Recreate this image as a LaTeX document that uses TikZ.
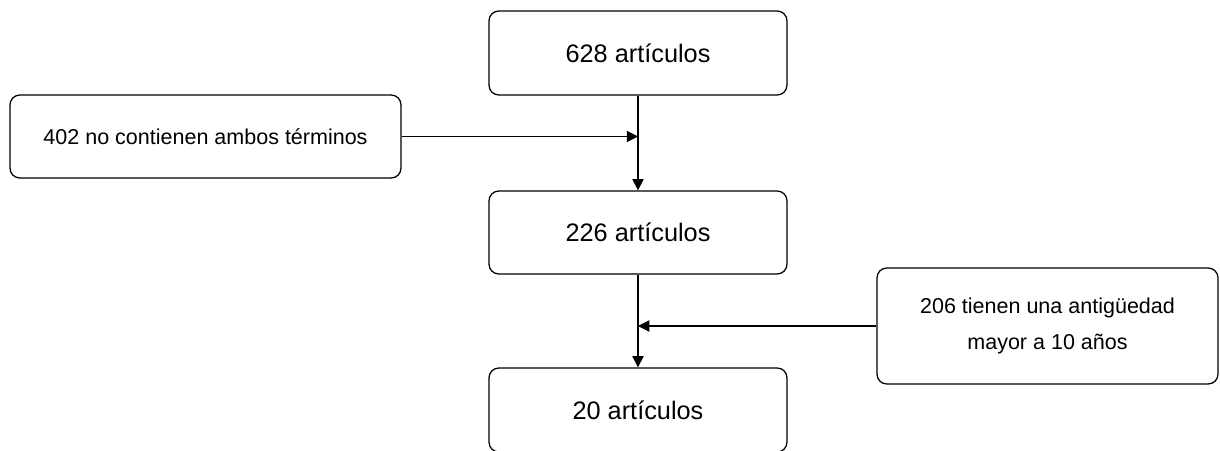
\documentclass[tikz,border=0pt]{standalone}
\usepackage{fontspec}
\setmainfont{Liberation Sans}
\usetikzlibrary{arrows.meta,calc}
\tikzset{
	paso/.style={draw, line width=0.9pt, rounded corners=7pt, minimum width=298*0.025cm, minimum height=84*0.025cm, font=\fontsize{18}{22}\selectfont, inner sep=0pt},
	nota/.style={draw, line width=0.9pt, rounded corners=7pt, align=center, font=\fontsize{15.3}{25.5}\selectfont, inner sep=0pt},
	flecha/.style={line width=0.75pt, -{Triangle[length=8pt,width=8pt]}}
}

\begin{document}
\begin{tikzpicture}[x=0.025cm, y=-0.025cm]
			%%%%% START %%%%%
			\useasboundingbox (0, 0) rectangle (1220, 451);
			
			\node[paso] (p628) at (638, 53) {628 artículos};
			\node[paso, minimum height=83*0.025cm] (p226) at (638, 232.5) {226 artículos};
			\node[paso] (p20) at (638, 410) {20 artículos};
			
			\node[nota, minimum width=391*0.025cm, minimum height=83*0.025cm] (excl1) at (205.5, 136.5) {402 no contienen ambos términos};
			\node[nota, minimum width=341*0.025cm, minimum height=116*0.025cm] (excl2) at (1047.5, 326) {206 tienen una antigüedad\\mayor a 10 años};
			
			\draw[flecha] (p628.south) -- (p226.north);
			\draw[flecha] (p226.south) -- (p20.north);
			
			\draw[flecha] (excl1.east) -- (excl1.east -| p628.south);
			\draw[flecha] (excl2.west) -- (excl2.west -| p226.south);
			%%%%% END %%%%%
		\end{tikzpicture}
\end{document}
